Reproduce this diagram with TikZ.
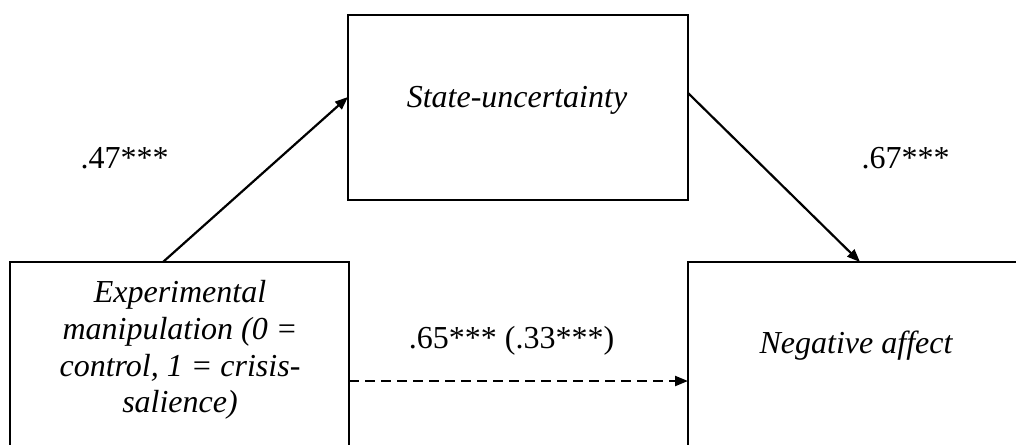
\documentclass[tikz,border=0pt]{standalone}
\usepackage{fontspec}
\setmainfont{Liberation Serif}
\usetikzlibrary{arrows.meta,calc}
\begin{document}
\begin{tikzpicture}[x=1pt,y=-1pt,
  box/.style={draw=black,line width=2.5pt,rectangle,inner sep=0pt,outer sep=0pt},
  arr/.style={line width=2.2pt,-{Triangle[length=13pt,width=10pt]}},
  dsh/.style={arr,dash pattern=on 10pt off 6pt},
  lab/.style={inner sep=0pt,anchor=base,font=\fontsize{32}{36.7}\selectfont},
  itx/.style={lab,font=\fontsize{32}{36.7}\selectfont\itshape}]
\path[use as bounding box,clip] (0,0) rectangle (1016,444);
\fill[white] (0,0) rectangle (1016,444);
\node[box,minimum width=340pt,minimum height=185pt] (tbox) at (518,107.5) {};
\node[box,minimum width=339pt,minimum height=238pt] (lbox) at (179.5,381) {};
\node[box,minimum width=372pt,minimum height=238pt] (rbox) at (874,381) {};
\node[itx] (ttxt) at (517,107) {State-uncertainty};
\node[itx] (rtxt) at (856,353) {Negative affect};
\node[inner sep=0pt,align=center,font=\fontsize{32}{36.7}\selectfont\itshape] (ltxt) at (180,350)
  {Experimental\\manipulation (0 =\\control, 1 = crisis-\\salience)};
\node[lab] (a) at (124.5,168) {.47***};
\node[lab] (b) at (905.5,168) {.67***};
\node[lab] (c) at (511.5,348) {.65*** (.33***)};
\draw[arr] ($(lbox.north west)+(153,0)$) -- ($(tbox.north west)+(0,82)$);
\draw[arr] ($(tbox.north east)+(0,78)$) -- ($(rbox.north west)+(172,0)$);
\draw[dsh] (lbox.east) -- (rbox.west);
\end{tikzpicture}
\end{document}
